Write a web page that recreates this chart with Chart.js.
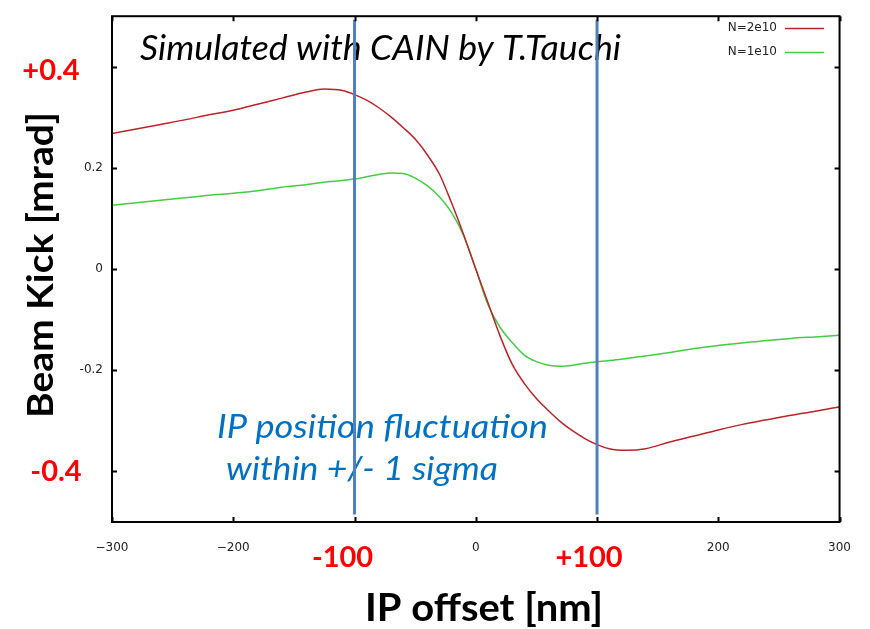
<!DOCTYPE html>
<html>
<head>
<meta charset="utf-8">
<title>Beam Kick vs IP offset</title>
<script src="https://cdn.jsdelivr.net/npm/chart.js@4/dist/chart.umd.min.js"></script>
<style>
  html, body { margin: 0; padding: 0; background: #fff; }
  canvas { display: block; }
</style>
</head>
<body>
<canvas id="kick" width="870" height="629"></canvas>
<script>
// IP offset [nm] sample positions and beam kick [mrad] for each bunch charge
const offsetHigh = [-300, -280, -260, -240, -220, -200, -180, -160, -140, -125, -110, -100, -90, -80, -70, -60, -50, -40, -30, -20, -10, 0,
                    10, 20, 30, 40, 50, 60, 70, 80, 90, 100, 110, 125, 140, 160, 180, 200, 220, 240, 260, 280, 300];
const kickHigh = [0.268, 0.277, 0.286, 0.295, 0.305, 0.314, 0.326, 0.338, 0.350, 0.356, 0.353, 0.345, 0.334, 0.319, 0.301, 0.280, 0.257, 0.226, 0.188, 0.131, 0.068, 0.0,
                  -0.066, -0.132, -0.188, -0.226, -0.256, -0.280, -0.302, -0.320, -0.335, -0.347, -0.355, -0.358, -0.355, -0.342, -0.330, -0.318, -0.307, -0.298, -0.289, -0.281, -0.272];

const offsetLow = [-300, -280, -260, -240, -220, -200, -180, -160, -140, -120, -100, -85, -70, -60, -50, -40, -30, -20, -10, 0,
                   10, 20, 30, 40, 50, 60, 70, 80, 90, 100, 120, 140, 160, 180, 200, 220, 240, 260, 280, 300];
const kickLow = [0.126, 0.131, 0.136, 0.141, 0.146, 0.150, 0.155, 0.162, 0.167, 0.173, 0.178, 0.185, 0.190, 0.189, 0.180, 0.165, 0.143, 0.112, 0.066, 0.0,
                 -0.070, -0.115, -0.145, -0.170, -0.183, -0.190, -0.192, -0.190, -0.186, -0.183, -0.178, -0.172, -0.165, -0.157, -0.151, -0.146, -0.141, -0.137, -0.134, -0.131];

const seriesLabels = ['N=2e10', 'N=1e10'];

// +/- 1 sigma band edges and the vertical extent of their marker lines
const sigmaOffsets = [-100, 100];
const sigmaSpan = [-0.485, 0.493];

const xTicks = [-300, -200, -100, 0, 100, 200, 300];
const yTicks = [-0.4, -0.2, 0, 0.2, 0.4];
const xHighlighted = [-100, 100];
const yHighlighted = [-0.4, 0.4];

const toPoints = (xs, ys) => xs.map((x, i) => ({ x: x, y: ys[i] }));

const RED = '#b8242a';
const GREEN = '#44cc44';
const SIGMA_BLUE = '#4f81bd';
const NOTE_BLUE = '#0070c0';

// Draw text starting at x, stretched or squeezed horizontally to the given width
function fitText(ctx, text, x, y, width) {
    const w = ctx.measureText(text).width;
    ctx.save();
    ctx.translate(x, y);
    ctx.scale(width / w, 1);
    ctx.textAlign = 'left';
    ctx.fillText(text, 0, 0);
    ctx.restore();
}

// Frame with inward ticks on all four sides
const framePlugin = {
    id: 'frame',
    afterDraw(chart) {
        const { ctx, chartArea: a, scales } = chart;
        ctx.save();
        ctx.strokeStyle = '#000';
        ctx.lineWidth = 2;
        ctx.strokeRect(a.left, a.top, a.right - a.left, a.bottom - a.top);
        const len = 5;
        ctx.beginPath();
        xTicks.forEach(v => {
            const px = Math.round(scales.x.getPixelForValue(v)) + 0.5;
            ctx.moveTo(px, a.bottom); ctx.lineTo(px, a.bottom - len);
            ctx.moveTo(px, a.top); ctx.lineTo(px, a.top + len);
        });
        yTicks.forEach(v => {
            const py = Math.round(scales.y.getPixelForValue(v)) + 0.5;
            ctx.moveTo(a.left, py); ctx.lineTo(a.left + len, py);
            ctx.moveTo(a.right, py); ctx.lineTo(a.right - len, py);
        });
        ctx.stroke();
        ctx.restore();
    }
};

// Text drawn under the sigma lines: note, annotation and legend
const notesPlugin = {
    id: 'notes',
    beforeDatasetsDraw(chart) {
        const { ctx } = chart;
        ctx.save();
        ctx.textBaseline = 'alphabetic';

        ctx.fillStyle = '#000';
        ctx.font = 'italic 34px Lato';
        fitText(ctx, 'Simulated with CAIN by T.Tauchi', 140, 60, 481);

        ctx.fillStyle = NOTE_BLUE;
        ctx.font = 'italic 32px Lato';
        fitText(ctx, 'IP position fluctuation', 217, 438, 331);
        fitText(ctx, 'within +/- 1 sigma', 226, 480, 272);

        // legend
        ctx.font = '12px "DejaVu Sans"';
        ctx.textAlign = 'right';
        ctx.textBaseline = 'middle';
        const curves = chart.data.datasets.filter(d => !d.isMarker);
        curves.forEach((d, i) => {
            const y = 28 + i * 24;
            ctx.fillStyle = '#222';
            ctx.fillText(d.label, 777, y);
            ctx.strokeStyle = d.borderColor;
            ctx.lineWidth = 1.5;
            ctx.beginPath();
            ctx.moveTo(785, y + 0.5);
            ctx.lineTo(824, y + 0.5);
            ctx.stroke();
        });
        ctx.restore();
    },
    afterDraw(chart) {
        const { ctx, scales } = chart;
        ctx.save();
        ctx.textBaseline = 'alphabetic';

        // axis titles
        ctx.fillStyle = '#000';
        ctx.font = 'bold 36px Lato';
        ctx.save();
        ctx.translate(53, 418);
        ctx.rotate(-Math.PI / 2);
        fitText(ctx, 'Beam Kick [mrad]', 0, 0, 306);
        ctx.restore();

        ctx.font = 'bold 38px Lato';
        fitText(ctx, 'IP offset [nm]', 365, 621, 238);

        // highlighted tick values
        ctx.fillStyle = '#ff0000';
        ctx.font = 'bold 29px Lato';
        ctx.textAlign = 'center';
        yHighlighted.forEach(v => {
            const py = scales.y.getPixelForValue(v);
            const text = (v > 0 ? '+' : '-') + Math.abs(v).toFixed(1);
            ctx.fillText(text, v > 0 ? 51 : 56, py + (v > 0 ? 13 : 10));
        });
        xHighlighted.forEach(v => {
            const px = scales.x.getPixelForValue(v);
            const text = (v > 0 ? '+' : '-') + Math.abs(v);
            ctx.fillText(text, px + (v > 0 ? -8 : -12), 567);
        });
        ctx.restore();
    }
};

const sigmaDatasets = sigmaOffsets.map(x => ({
    label: 'sigma ' + x,
    isMarker: true,
    data: toPoints([x, x], sigmaSpan),
    borderColor: SIGMA_BLUE,
    borderWidth: 3,
    pointRadius: 0,
    order: 0
}));

new Chart(document.getElementById('kick'), {
    type: 'line',
    data: {
        datasets: [
            {
                label: seriesLabels[0],
                data: toPoints(offsetHigh, kickHigh),
                borderColor: RED,
                borderWidth: 1.5,
                pointRadius: 0,
                cubicInterpolationMode: 'monotone',
                order: 1
            },
            {
                label: seriesLabels[1],
                data: toPoints(offsetLow, kickLow),
                borderColor: GREEN,
                borderWidth: 1.5,
                pointRadius: 0,
                cubicInterpolationMode: 'monotone',
                order: 1
            },
            ...sigmaDatasets
        ]
    },
    options: {
        responsive: false,
        animation: false,
        devicePixelRatio: 1,
        layout: { padding: { top: 10, right: 28, left: 0, bottom: 0 } },
        plugins: {
            legend: { display: false },
            tooltip: { enabled: false }
        },
        scales: {
            x: {
                type: 'linear',
                min: -300,
                max: 300,
                afterFit: (scale) => { scale.height = 107; },
                afterBuildTicks: (scale) => { scale.ticks = xTicks.map(v => ({ value: v })); },
                grid: { display: false, drawTicks: false },
                border: { display: false },
                ticks: {
                    padding: 19,
                    color: '#222',
                    font: { family: 'DejaVu Sans', size: 12 },
                    maxRotation: 0,
                    callback: (v) => xHighlighted.includes(v) ? '' : String(v).replace('-', '\u2212')
                }
            },
            y: {
                type: 'linear',
                min: -0.5,
                max: 0.5,
                afterFit: (scale) => { scale.width = 112; },
                afterBuildTicks: (scale) => { scale.ticks = yTicks.map(v => ({ value: v })); },
                grid: { display: false, drawTicks: false },
                border: { display: false },
                ticks: {
                    padding: 9,
                    color: '#222',
                    font: { family: 'DejaVu Sans', size: 12 },
                    callback: (v) => yHighlighted.includes(v) ? '' : (v === 0 ? '0' : v.toFixed(1))
                }
            }
        }
    },
    plugins: [notesPlugin, framePlugin]
});
</script>
</body>
</html>
